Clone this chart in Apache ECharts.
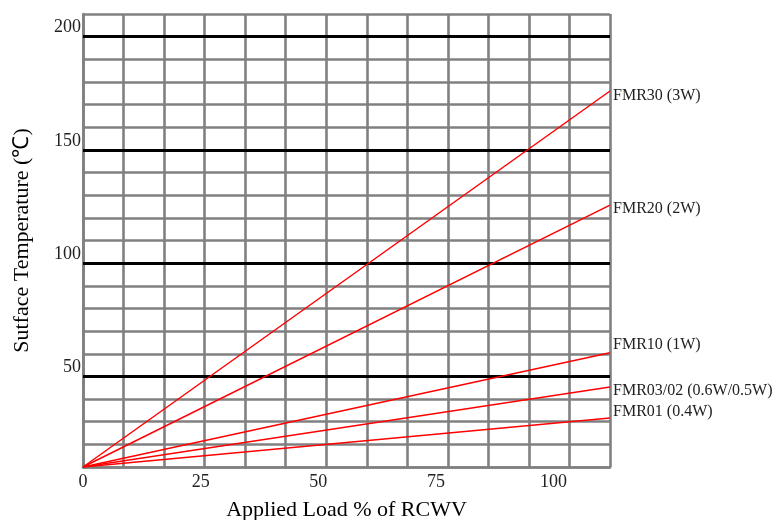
<!DOCTYPE html>
<html>
<head>
<meta charset="utf-8">
<script src="https://cdn.jsdelivr.net/npm/echarts@6/dist/echarts.min.js"></script>
<style>
  html, body { margin: 0; padding: 0; background: #fff; }
  #chart { width: 784px; height: 520px; }
</style>
</head>
<body>
<div id="chart"></div>
<script>
// applied load (% of RCWV) at the two ends of each line
const loadPct = [0, 112];
// surface temperature (°C) at those loads
const fmr30 = [10, 176];
const fmr20 = [10, 125.6];
const fmr10 = [10, 60.4];
const fmr0302 = [10, 45.3];
const fmr01 = [10, 31.6];

const seriesNames = ['FMR30 (3W)', 'FMR20 (2W)', 'FMR10 (1W)', 'FMR03/02 (0.6W/0.5W)', 'FMR01 (0.4W)'];
const seriesValues = [fmr30, fmr20, fmr10, fmr0302, fmr01];
// nudge of each end label, px
const labelShift = [5, 4, -8, 4, -6];

const xTicks = [0, 25, 50, 75, 100];
const yTicks = [50, 100, 150, 200];

const FONT = '"Liberation Serif", "Times New Roman", serif';
const GRAY = '#808080';

const chart = echarts.init(document.getElementById('chart'));

const lines = seriesNames.map((name, i) => ({
  name: name,
  type: 'line',
  xAxisIndex: 0,
  z: 5,
  symbol: 'none',
  silent: true,
  lineStyle: { color: '#ff0000', width: 1.5 },
  data: loadPct.map((x, j) => [x, seriesValues[i][j]]),
  endLabel: {
    show: true,
    formatter: name,
    distance: 3,
    offset: [0, labelShift[i]],
    fontFamily: FONT,
    fontSize: 16,
    color: '#222',
  },
}));

const option = {
  animation: false,
  grid: {
    left: 83, right: 174, top: 14, bottom: 53,
    containLabel: false,
    outerBoundsMode: 'none',
  },
  xAxis: [{
    type: 'value',
    min: 0,
    max: 112,
    interval: 25,
    name: 'Applied Load % of RCWV',
    nameLocation: 'middle',
    nameGap: 32,
    nameTextStyle: { fontFamily: FONT, fontSize: 22, color: '#000' },
    axisLine: { show: true, lineStyle: { color: GRAY, width: 2.6 } },
    axisTick: { show: false },
    splitLine: { show: false },
    axisLabel: {
      margin: 6,
      fontFamily: FONT,
      fontSize: 18,
      color: '#222',
      formatter: (v) => (xTicks.indexOf(v) >= 0 ? String(v) : ''),
    },
  }, {
    // only draws the 13 vertical grid columns
    type: 'value',
    position: 'bottom',
    min: 0,
    max: 13,
    interval: 1,
    axisLine: { show: false },
    axisTick: { show: false },
    axisLabel: { show: false },
    splitLine: { show: true, lineStyle: { color: GRAY, width: 2.6 } },
  }],
  yAxis: {
    type: 'value',
    min: 10,
    max: 210,
    interval: 10,
    name: 'Sutface Temperature (℃)',
    nameLocation: 'middle',
    nameRotate: 90,
    nameGap: 50,
    nameTextStyle: { fontFamily: FONT, fontSize: 22, color: '#000' },
    axisLine: { show: true, lineStyle: { color: GRAY, width: 2.6 } },
    axisTick: { show: false },
    splitLine: { show: true, lineStyle: { color: GRAY, width: 2.6 } },
    axisLabel: {
      margin: 2,
      verticalAlign: 'bottom',
      fontFamily: FONT,
      fontSize: 18,
      color: '#222',
      formatter: (v) => (yTicks.indexOf(v) >= 0 ? String(v) : ''),
    },
  },
  series: [{
    name: 'major',
    type: 'line',
    xAxisIndex: 0,
    z: 3,
    data: [],
    markLine: {
      silent: true,
      symbol: 'none',
      label: { show: false },
      lineStyle: { color: '#000', width: 3, type: 'solid' },
      data: yTicks.map((v) => ({ yAxis: v })),
    },
  }].concat(lines),
};

chart.setOption(option);
</script>
</body>
</html>
